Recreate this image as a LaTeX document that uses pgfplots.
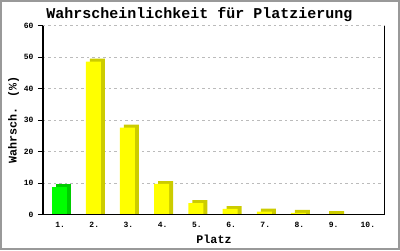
\documentclass[border=0pt]{standalone}
\usepackage{fontspec}
\setmainfont{Liberation Mono}
\usepackage{pgfplots}
\pgfplotsset{compat=1.18}
\definecolor{ylw}{HTML}{FFFF00}
\definecolor{ylwd}{HTML}{CCCC00}
\definecolor{grn}{HTML}{00FF00}
\definecolor{grnd}{HTML}{00CC00}
\definecolor{brd}{HTML}{999999}
\definecolor{grd}{HTML}{BBBBBB}
\begin{document}
\begin{tikzpicture}
\begin{axis}[
  scale only axis, width=342pt, height=188.7pt,
  xmin=0.5, xmax=10.5, ymin=0, ymax=60,
  ytick={0,10,...,60},
  xtick={1,...,10},
  xticklabels={1.,2.,3.,4.,5.,6.,7.,8.,9.,10.},
  axis x line*=bottom, axis y line*=left,
  axis line style={line width=1.4pt, -},
  ymajorgrids,
  major grid style={grd, dash pattern=on 2.5pt off 3pt, line width=0.9pt},
  major y tick style={black, line width=1pt},
  ytick align=outside, major tick length=5pt,
  x tick style={draw=none},
  /pgf/number format/assume math mode=true,
  ticklabel style={font=\fontsize{8}{8}\selectfont\bfseries},
  yticklabel style={anchor=east, xshift=-1pt},
  xticklabel style={anchor=base, yshift=-7.5pt},
  ybar, bar width=15pt,
  title={\bfseries Wahrscheinlichkeit für Platzierung},
  every axis title/.style={at={(rel axis cs:0.4576,1)}, anchor=base, yshift=7.8pt, font=\fontsize{15}{15}\selectfont},
  xlabel={\bfseries Platz},
  every axis x label/.style={at={(rel axis cs:0.5,0)}, anchor=base, yshift=-28.5pt, font=\fontsize{11.7}{12}\selectfont},
  ylabel={\bfseries Wahrsch. (\%)},
  every axis y label/.style={at={(rel axis cs:0,0.5)}, xshift=-26.3pt, rotate=90, anchor=base, font=\fontsize{11.7}{12}\selectfont},
]
% shadows
\addplot[fill=grnd, draw=none, bar shift=3pt] coordinates {(1,9.65)};
\addplot[fill=ylwd, draw=none, bar shift=3pt] coordinates {(2,49.55) (3,28.55) (4,10.65) (5,4.6) (6,2.7) (7,1.9) (8,1.5) (9,1.1)};
% fronts
\addplot[fill=grn, draw=none, bar shift=-1pt] coordinates {(1,8.7)};
\addplot[fill=ylw, draw=none, bar shift=-1pt] coordinates {(2,48.6) (3,27.6) (4,9.7) (5,3.65) (6,1.75) (7,0.95) (8,0.55) (9,0.15)};
\draw[line width=1.4pt] (rel axis cs:0,0) -- (rel axis cs:1,0);
\draw[line width=1.2pt] (rel axis cs:1,0) -- (rel axis cs:1,1);
\end{axis}
\draw[brd, line width=2pt] (-42pt,-34.5pt) rectangle (356pt,213.5pt);
\end{tikzpicture}
\end{document}
